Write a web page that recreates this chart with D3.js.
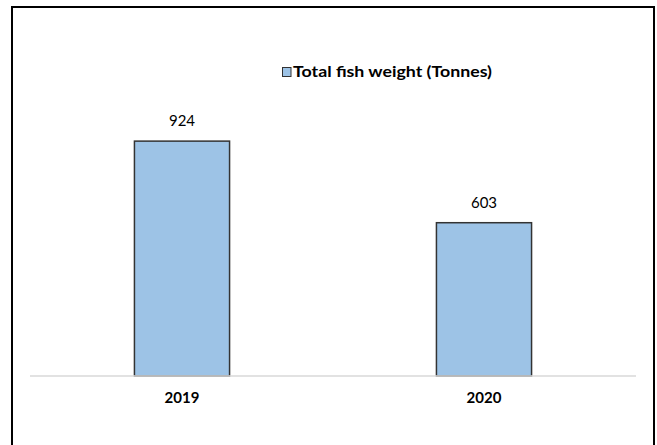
<!DOCTYPE html>
<html><head><meta charset="utf-8">
<script src="https://cdn.jsdelivr.net/npm/d3@7"></script>
<style>body{margin:0;background:#fff;}svg{display:block;}</style>
</head><body>
<script>
const categories = ["2019", "2020"];
const values = [924, 603];
const seriesName = "Total fish weight (Tonnes)";

const W = 657, H = 445;
const svg = d3.select("body").append("svg").attr("width", W).attr("height", H);

// outer chart border
svg.append("rect").attr("x", 12).attr("y", 7).attr("width", 642).attr("height", 460)
  .attr("fill", "#fff").attr("stroke", "#000").attr("stroke-width", 2);

const x = d3.scaleBand().domain(categories).range([31, 635]).paddingInner(0.685).paddingOuter(0.3425);
const y = d3.scaleLinear().domain([0, 1000]).range([376, 121.8]);

svg.selectAll("rect.bar").data(values).enter().append("rect").attr("class", "bar")
  .attr("x", (d, i) => x(categories[i]))
  .attr("y", d => y(d))
  .attr("width", x.bandwidth())
  .attr("height", d => y(0) - y(d))
  .attr("fill", "#9DC3E6").attr("stroke", "#333").attr("stroke-width", 1.5);

// axis
const ax = svg.append("g").attr("transform", "translate(0,376)")
  .call(d3.axisBottom(x).tickSize(0).tickPadding(16));
ax.select(".domain").attr("stroke", "#d9d9d9").attr("stroke-width", 1.5).attr("d", "M30,0H636");
ax.selectAll("text").attr("font-family", "Lato").attr("font-weight", "bold").attr("font-size", 15).attr("fill", "#000");

// data labels
svg.selectAll("text.lbl").data(values).enter().append("text").attr("class", "lbl")
  .attr("x", (d, i) => x(categories[i]) + x.bandwidth() / 2)
  .attr("y", d => y(d) - 15)
  .attr("text-anchor", "middle")
  .attr("font-family", "Lato").attr("font-size", 15).attr("fill", "#000")
  .text(d => d);

// legend
const lg = svg.append("g");
lg.append("rect").attr("x", 282.5).attr("y", 67.5).attr("width", 8.5).attr("height", 9)
  .attr("fill", "#9DC3E6").attr("stroke", "#333").attr("stroke-width", 1);
lg.append("text").attr("x", 293).attr("y", 77).attr("font-family", "Lato").attr("font-weight", "bold")
  .attr("font-size", 15).attr("textLength", 199).attr("lengthAdjust", "spacingAndGlyphs")
  .attr("fill", "#000").text(seriesName);
</script>
</body></html>
